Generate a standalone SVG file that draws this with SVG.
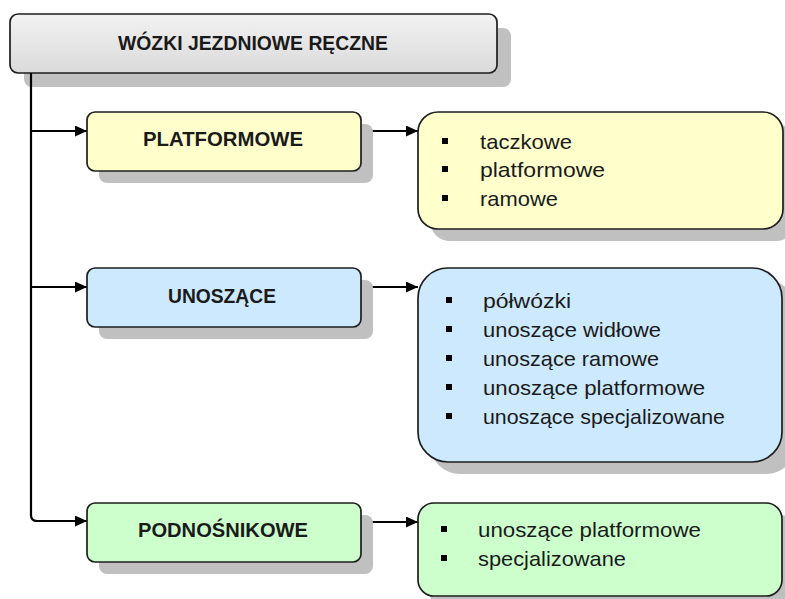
<svg xmlns="http://www.w3.org/2000/svg" width="785" height="599" viewBox="0 0 785 599">
<style>
.box{stroke:#1e1e1e;stroke-width:1.7}
.sh{fill:#c0c0c0}
.hd{font-family:"Liberation Sans",Arial,sans-serif;font-weight:bold;font-size:20px;fill:#1a1a1a;text-anchor:middle}
.it{font-family:"Liberation Sans",Arial,sans-serif;font-size:21px;fill:#1a1a1a}
.bl{fill:#000}
.cn{fill:none;stroke:#000;stroke-width:2.2}
</style>
<defs>
<linearGradient id="gg" x1="0" y1="0" x2="0" y2="1"><stop offset="0" stop-color="#f2f2f2"/><stop offset="1" stop-color="#dadada"/></linearGradient>
<marker id="ah" viewBox="0 0 12 11" refX="12" refY="5.5" markerWidth="12" markerHeight="11" markerUnits="userSpaceOnUse" orient="auto"><path d="M0,0 L12,5.5 L0,11 Z" fill="#000"/></marker>
</defs>

<g id="root">
<rect class="sh" x="24" y="28" width="487" height="59" rx="8"/>
<rect class="box" x="10" y="14" width="487" height="59" rx="8" fill="url(#gg)"/>
<text class="hd" x="253" y="50" textLength="270" lengthAdjust="spacingAndGlyphs">WÓZKI JEZDNIOWE RĘCZNE</text>
</g>

<g id="connectors">
<path class="cn" d="M31,73 V515 Q31,521 37,521 H87" marker-end="url(#ah)"/>
<path class="cn" d="M31,131 H87" marker-end="url(#ah)"/>
<path class="cn" d="M31,287 H87" marker-end="url(#ah)"/>
<path class="cn" d="M361,131 H418" marker-end="url(#ah)"/>
<path class="cn" d="M361,287 H418" marker-end="url(#ah)"/>
<path class="cn" d="M361,522 H418" marker-end="url(#ah)"/>
</g>

<g id="platformowe">
<rect class="sh" x="99" y="124" width="274" height="59" rx="8"/>
<rect class="box" x="87" y="112" width="274" height="59" rx="8" fill="#ffffcc"/>
<text class="hd" x="223" y="146" textLength="160" lengthAdjust="spacingAndGlyphs">PLATFORMOWE</text>
</g>

<g id="unoszace">
<rect class="sh" x="99" y="280" width="274" height="59" rx="8"/>
<rect class="box" x="87" y="268" width="274" height="59" rx="8" fill="#cce9fd"/>
<text class="hd" x="222" y="303" textLength="108" lengthAdjust="spacingAndGlyphs">UNOSZĄCE</text>
</g>

<g id="podnosnikowe">
<rect class="sh" x="99" y="515" width="274" height="59" rx="8"/>
<rect class="box" x="87" y="503" width="274" height="59" rx="8" fill="#ccffcc"/>
<text class="hd" x="223" y="537" textLength="170" lengthAdjust="spacingAndGlyphs">PODNOŚNIKOWE</text>
</g>

<g id="lista-platformowe">
<rect class="sh" x="430" y="124" width="366" height="117" rx="20"/>
<rect class="box" x="418" y="112" width="365" height="117" rx="20" fill="#ffffcc"/>
<rect class="bl" x="442" y="138" width="6" height="6"/>
<rect class="bl" x="442" y="166" width="6" height="6"/>
<rect class="bl" x="442" y="195" width="6" height="6"/>
<text class="it" x="480" y="149" textLength="92" lengthAdjust="spacingAndGlyphs">taczkowe</text>
<text class="it" x="480" y="177" textLength="125" lengthAdjust="spacingAndGlyphs">platformowe</text>
<text class="it" x="480" y="206" textLength="78" lengthAdjust="spacingAndGlyphs">ramowe</text>
</g>

<g id="lista-unoszace">
<rect class="sh" x="430" y="280" width="366" height="194" rx="30"/>
<rect class="box" x="418" y="268" width="364" height="194" rx="30" fill="#cce9fd"/>
<rect class="bl" x="446" y="297" width="6" height="6"/>
<rect class="bl" x="446" y="326" width="6" height="6"/>
<rect class="bl" x="446" y="355" width="6" height="6"/>
<rect class="bl" x="446" y="384" width="6" height="6"/>
<rect class="bl" x="446" y="413" width="6" height="6"/>
<text class="it" x="483" y="308" textLength="88" lengthAdjust="spacingAndGlyphs">półwózki</text>
<text class="it" x="483" y="337" textLength="178" lengthAdjust="spacingAndGlyphs">unoszące widłowe</text>
<text class="it" x="483" y="366" textLength="176" lengthAdjust="spacingAndGlyphs">unoszące ramowe</text>
<text class="it" x="483" y="395" textLength="222" lengthAdjust="spacingAndGlyphs">unoszące platformowe</text>
<text class="it" x="483" y="424" textLength="242" lengthAdjust="spacingAndGlyphs">unoszące specjalizowane</text>
</g>

<g id="lista-podnosnikowe">
<rect class="sh" x="430" y="515" width="366" height="94" rx="16"/>
<rect class="box" x="418" y="503" width="364" height="93" rx="16" fill="#ccffcc"/>
<rect class="bl" x="441" y="526" width="6" height="6"/>
<rect class="bl" x="441" y="555" width="6" height="6"/>
<text class="it" x="478" y="537" textLength="223" lengthAdjust="spacingAndGlyphs">unoszące platformowe</text>
<text class="it" x="478" y="566" textLength="148" lengthAdjust="spacingAndGlyphs">specjalizowane</text>
</g>
</svg>
